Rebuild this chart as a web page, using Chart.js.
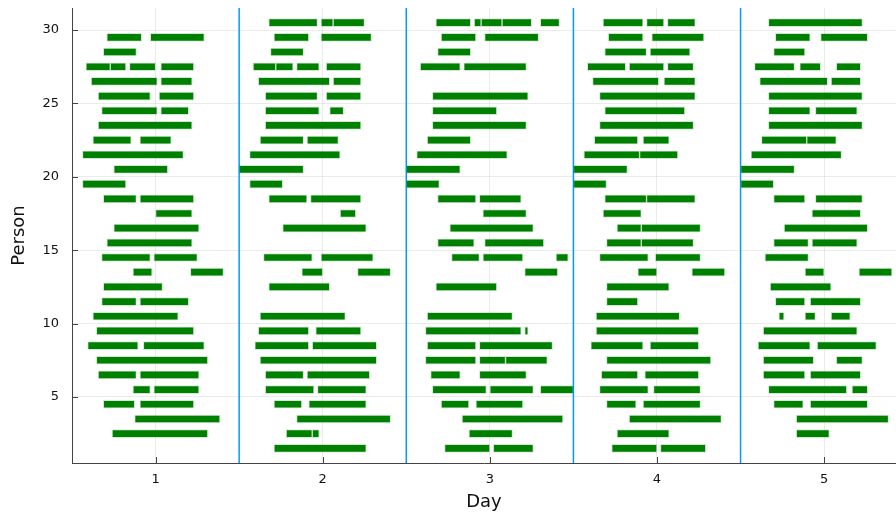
<!DOCTYPE html>
<html>
<head>
<meta charset="utf-8">
<script src="https://cdn.jsdelivr.net/npm/chart.js@4/dist/chart.umd.min.js"></script>
<style>
html,body{margin:0;padding:0;background:#fff;}
#wrap{width:896px;height:513px;position:relative;}
</style>
</head>
<body>
<div id="wrap"><canvas id="c" width="896" height="513"></canvas></div>
<script>
// ---- data ----
const days = [1, 2, 3, 4, 5];
const xTicks = [1, 2, 3, 4, 5];
const yTicks = [5, 10, 15, 20, 25, 30];
const dividers = [1.5, 2.5, 3.5, 4.5];
const xMin = 0.5, xMax = 5.43, yMin = 0.5, yMax = 31.5;
// person rows, top to bottom
const rowY = [30.5, 29.5, 28.5, 27.5, 26.5, 25.5, 24.5, 23.5, 22.5, 21.5,
              20.5, 19.5, 18.5, 17.5, 16.5, 15.5, 14.5, 13.5, 12.5, 11.5,
              10.5, 9.5, 8.5, 7.5, 6.5, 5.5, 4.5, 3.5, 2.5, 1.5];
// shifts per row as [start hour, end hour] within the day
const day1 = [
  [], [[5,10],[11.25,19]], [[4.5,9.25]], [[2,5.5],[5.5,7.75],[8.25,12],[12.75,17.5]],
  [[2.75,12.25],[12.75,17.25]], [[3.75,11.25],[12.5,17.5]], [[4.25,12.25],[12.75,16.75]],
  [[3.75,17.25]], [[3,8.5],[9.75,14.25]], [[1.5,16]], [[6,13.75]], [[1.5,7.75]],
  [[4.5,9.25],[9.75,17.5]], [[12,17.25]], [[6,18.25]], [[5,17.25]], [[4.25,11.25],[11.75,18]],
  [[8.75,11.5],[17,21.75]], [[4.5,13]], [[4.25,9.25],[9.75,16.75]], [[3,15.25]], [[3.5,17.5]],
  [[2.25,9.5],[10.25,19]], [[3.5,19.5]], [[3.75,9.25],[9.75,18.25]], [[8.75,11.25],[11.75,18.25]],
  [[4.5,9],[9.75,17.5]], [[9,21.25]], [[5.75,19.5]], []
];
const day2 = [
  [[4.25,11.25],[11.75,13.5],[13.5,18]], [[5,10],[11.75,19]], [[4.5,9.25]],
  [[2,5.25],[5.25,7.75],[8.25,11.5],[12.5,17.5]], [[2.75,13],[13.5,17.5]], [[3.75,11.25],[12.5,17.5]],
  [[3.75,11.5],[13,15]], [[3.75,17.5]], [[3,9.25],[9.75,14.25]], [[1.5,14.5]], [[0,9.25]], [[1.5,6.25]],
  [[4.25,9.75],[10.25,17.5]], [[14.5,16.75]], [[6.25,18.25]], [], [[3.5,10.5],[11.75,19.25]],
  [[9,12],[17,21.75]], [[4.25,13]], [], [[3,15.25]], [[2.75,10],[11,17.5]], [[2.25,10],[10.5,19.75]],
  [[3,19.75]], [[3.75,9.25],[9.75,18.75]], [[3.75,10.75],[11.25,18.25]], [[5,9],[10,18.25]],
  [[8.25,21.75]], [[6.75,10.5],[10.5,11.5]], [[5,18.25]]
];
const day3 = [
  [[4.25,9.25],[9.75,10.75],[10.75,13.75],[13.75,18],[19.25,22]], [[5,10],[11.25,19]], [[4.5,9.25]],
  [[2,7.75],[8.25,17.25]], [], [[3.75,17.5]], [[3.75,13]], [[3.75,17.25]], [[3,9.25]], [[1.5,14.5]],
  [[0,7.75]], [[0,4.75]], [[4.5,10],[10.5,16.5]], [[11,17.25]], [[6.25,18.25]], [[4.5,9.75],[11.25,19.75]],
  [[6.5,10.5],[11,16.75],[21.5,23.25]], [[17,21.75]], [[4.25,13]], [], [[3,15.25]], [[2.75,16.5],[17,17.5]],
  [[3,10],[10.5,21]], [[2.75,10],[10.5,14.25],[14.25,20.25]], [[3.5,7.75],[10.5,17.25]],
  [[3.75,11.5],[12,18.25],[19.25,24]], [[5,9],[10,16.75]], [[8,22.5]], [[9,15.25]], [[5.5,12],[12.5,18.25]]
];
const day4 = [
  [[4.25,10],[10.5,13],[13.5,17.5]], [[5,10],[11.25,18.75]], [[4.5,10.5],[11,16.75]],
  [[2,7.5],[8,13],[13.5,17.25]], [[2.75,12.25],[13,17.5]], [[3.75,17.5]], [[4.5,16]], [[3.75,17.25]],
  [[3,9.25],[10,13.75]], [[1.5,9.5],[9.5,15]], [[0,7.75]], [[0,4.75]], [[4.5,10.5],[10.5,17.5]],
  [[4.25,9.75]], [[6.25,9.75],[9.75,18.25]], [[4.75,9.75],[9.75,17.25]], [[3.75,10.75],[11.75,18.25]],
  [[9.25,12],[17,21.75]], [[4.75,13.75]], [[4.75,9.25]], [[3.25,15.25]], [[3.25,18]], [[2.5,10],[11,18]],
  [[4.75,19.75]], [[4,9.25],[10.25,18]], [[3.75,10.75],[11.5,18.25]], [[4.75,9],[10,18.25]],
  [[8,21.25]], [[6.25,13.75]], [[5.5,12],[12.5,19]]
];
const day5 = [
  [[4,17.5]], [[5,10],[11.5,18.25]], [[4.75,9.25]], [[2,7.75],[8.5,11.5],[13.75,17.25]],
  [[2.75,12.5],[13,17.25]], [[4,17.5]], [[4,10],[10.75,16.75]], [[4,17.5]], [[3,9.5],[9.5,13.75]],
  [[1.5,14.5]], [[0,7.75]], [[0,4.75]], [[4.75,9.25],[10.75,17.5]], [[10.25,17.25]], [[6.25,18.25]],
  [[4.75,9.75],[10.25,16.75]], [[3.5,9.75]], [[9.25,12],[17,21.75]], [[4.25,13]], [[5,9.25],[10,17.25]],
  [[5.5,6.25],[9.25,10.75],[13,15.75]], [[3.25,16.75]], [[2.5,10],[11,19.5]], [[3.25,10.5],[13.75,17.5]],
  [[3.25,9.25],[10,17.25]], [[4,15.25],[16,18.25]], [[4.75,9],[10,18.25]], [[8,21.25]], [[8,12.75]], []
];
const schedule = [day1, day2, day3, day4, day5];

// ---- build marks ----
const toX = (d, h) => d - 0.5 + h / 24;
const bars = [];
schedule.forEach((rows, di) => {
  rows.forEach((shifts, ri) => {
    shifts.forEach(([s, e]) => {
      bars.push({ y: rowY[ri], x: [toX(days[di], s), toX(days[di], e)] });
    });
  });
});

const FONT = "'DejaVu Sans', 'Liberation Sans', sans-serif";

const inwardTicks = {
  id: 'inwardTicks',
  afterDatasetsDraw(chart) {
    const { ctx, chartArea: a, scales: { x, y } } = chart;
    ctx.save();
    ctx.strokeStyle = '#444';
    ctx.lineWidth = 1;
    ctx.beginPath();
    x.ticks.forEach(t => {
      const p = Math.round(x.getPixelForValue(t.value)) + 0.5;
      ctx.moveTo(p, a.bottom);
      ctx.lineTo(p, a.bottom - 6);
    });
    y.ticks.forEach(t => {
      const p = Math.round(y.getPixelForValue(t.value)) + 0.5;
      ctx.moveTo(a.left, p);
      ctx.lineTo(a.left + 6, p);
    });
    ctx.stroke();
    ctx.restore();
  }
};

const datasets = [{
  type: 'bar',
  data: bars,
  indexAxis: 'y',
  backgroundColor: '#008000',
  borderColor: 'rgba(0,128,0,0.18)',
  borderWidth: 1,
  borderSkipped: false,
  barThickness: 8,
  order: 0,
  xAxisID: 'x',
  yAxisID: 'y'
}];
dividers.forEach(d => {
  datasets.push({
    type: 'line',
    data: [{ x: d, y: yMin }, { x: d, y: yMax }],
    borderColor: '#009afa',
    borderWidth: 1.5,
    pointRadius: 0,
    fill: false,
    order: 1,
    xAxisID: 'x',
    yAxisID: 'y'
  });
});

new Chart(document.getElementById('c'), {
  type: 'bar',
  data: { datasets },
  plugins: [inwardTicks],
  options: {
    responsive: false,
    animation: false,
    devicePixelRatio: 1,
    indexAxis: 'y',
    layout: { padding: { top: 8, right: 0, bottom: 0, left: 0 } },
    plugins: { legend: { display: false }, tooltip: { enabled: false } },
    scales: {
      x: {
        type: 'linear',
        min: xMin, max: xMax,
        offset: false,
        afterBuildTicks: s => { s.ticks = xTicks.map(v => ({ value: v })); },
        afterFit: s => { s.height = 50; s.paddingLeft = 0; s.paddingRight = 0; },
        grid: { color: 'rgba(0,0,0,0.08)', lineWidth: 1, drawTicks: false, offset: false },
        border: { display: true, color: '#444', width: 1 },
        ticks: { color: '#111', padding: 9, font: { family: FONT, size: 13 }, callback: v => String(v) },
        title: { display: true, text: 'Day', color: '#111', font: { family: FONT, size: 18 }, padding: { top: 0, bottom: 0 } }
      },
      y: {
        type: 'linear',
        min: yMin, max: yMax,
        offset: false,
        afterBuildTicks: s => { s.ticks = yTicks.map(v => ({ value: v })); },
        afterFit: s => { s.width = 72; s.paddingTop = 0; s.paddingBottom = 0; },
        grid: { color: 'rgba(0,0,0,0.08)', lineWidth: 1, drawTicks: false, offset: false },
        border: { display: true, color: '#444', width: 1 },
        ticks: { color: '#111', padding: 13, font: { family: FONT, size: 13 }, callback: v => String(v) },
        title: { display: true, text: 'Person', color: '#111', font: { family: FONT, size: 18 }, padding: { top: 9, bottom: 0 } }
      }
    }
  }
});
</script>
</body>
</html>
